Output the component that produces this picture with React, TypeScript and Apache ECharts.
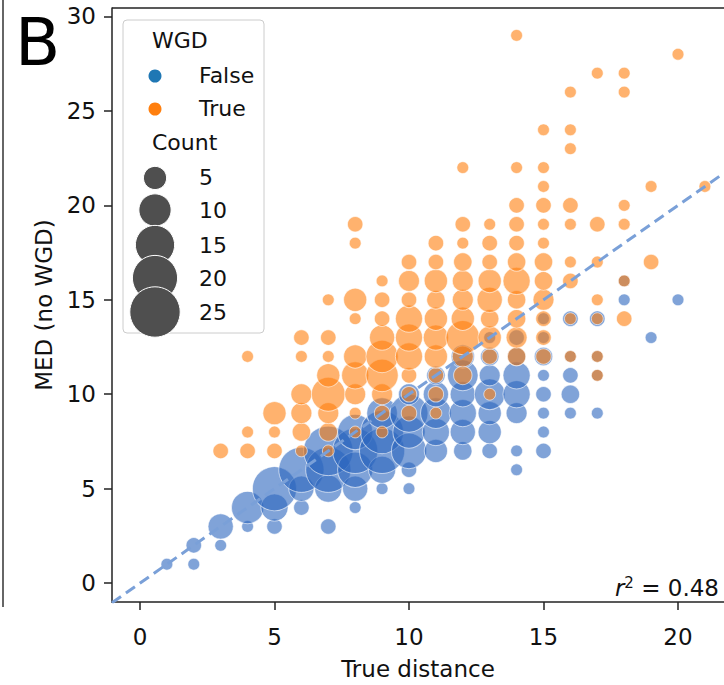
import React, { useEffect, useRef } from "react";
import * as echarts from "echarts";

// ---------- data ----------
const xTicks = [0, 5, 10, 15, 20];
const yTicks = [0, 5, 10, 15, 20, 25, 30];
const wgdCategories = ["False", "True"];
const legendCounts = [5, 10, 15, 20, 25];

// [true distance, MED (no WGD), count]
const falsePoints: number[][] = [
  [1, 1, 1],
  [2, 1, 1], [2, 2, 2],
  [3, 2, 1], [3, 3, 6],
  [4, 3, 1], [4, 4, 10],
  [5, 3, 2], [5, 4, 7], [5, 5, 19],
  [6, 4, 2], [6, 5, 6], [6, 6, 20],
  [7, 3, 2], [7, 5, 7], [7, 6, 20], [7, 7, 24],
  [8, 4, 1], [8, 5, 6], [8, 6, 12], [8, 7, 20], [8, 8, 12],
  [9, 5, 1], [9, 6, 7], [9, 7, 20], [9, 8, 18], [9, 9, 9],
  [10, 5, 1], [10, 6, 2], [10, 7, 12], [10, 8, 10], [10, 9, 14], [10, 10, 4],
  [11, 7, 5], [11, 8, 7], [11, 9, 9], [11, 10, 6], [11, 11, 3],
  [12, 7, 3], [12, 8, 6], [12, 9, 7], [12, 10, 6], [12, 11, 9], [12, 12, 5],
  [13, 7, 2], [13, 8, 5], [13, 9, 5], [13, 10, 9], [13, 11, 4], [13, 12, 3], [13, 13, 1],
  [14, 6, 1], [14, 7, 1], [14, 9, 4], [14, 10, 7], [14, 11, 7], [14, 12, 3], [14, 13, 2],
  [15, 7, 2], [15, 8, 1], [15, 9, 1], [15, 10, 2], [15, 11, 1], [15, 12, 3], [15, 13, 1], [15, 14, 1],
  [16, 9, 1], [16, 10, 3], [16, 11, 2], [16, 12, 1], [16, 14, 2],
  [17, 9, 1], [17, 11, 1], [17, 12, 1], [17, 14, 2],
  [18, 15, 1], [18, 16, 1],
  [19, 13, 1],
  [20, 15, 1],
];

const truePoints: number[][] = [
  [3, 7, 2],
  [4, 7, 2], [4, 8, 1], [4, 12, 1],
  [5, 7, 2], [5, 8, 1], [5, 9, 5],
  [6, 7, 1], [6, 8, 3], [6, 9, 4], [6, 10, 4], [6, 12, 1], [6, 13, 2],
  [7, 7, 1], [7, 8, 3], [7, 9, 4], [7, 10, 11], [7, 11, 5], [7, 12, 1], [7, 13, 2], [7, 15, 1],
  [8, 8, 1], [8, 9, 1], [8, 10, 4], [8, 11, 7], [8, 12, 5], [8, 14, 1], [8, 15, 5], [8, 18, 1], [8, 19, 2],
  [9, 8, 1], [9, 9, 2], [9, 10, 4], [9, 11, 10], [9, 12, 10], [9, 13, 6], [9, 14, 2], [9, 15, 2], [9, 16, 1],
  [10, 9, 2], [10, 10, 2], [10, 11, 2], [10, 12, 7], [10, 13, 7], [10, 14, 7], [10, 15, 2], [10, 16, 4], [10, 17, 2],
  [11, 9, 1], [11, 10, 2], [11, 11, 2], [11, 12, 5], [11, 13, 6], [11, 14, 5], [11, 15, 3], [11, 16, 5], [11, 17, 2], [11, 18, 2],
  [12, 11, 3], [12, 12, 4], [12, 13, 11], [12, 14, 5], [12, 15, 4], [12, 16, 4], [12, 17, 3], [12, 18, 1], [12, 19, 2], [12, 22, 1],
  [13, 10, 1], [13, 12, 2], [13, 13, 5], [13, 14, 3], [13, 15, 6], [13, 16, 5], [13, 17, 2], [13, 18, 2], [13, 19, 1],
  [14, 12, 3], [14, 13, 4], [14, 14, 3], [14, 15, 3], [14, 16, 7], [14, 17, 3], [14, 18, 2], [14, 19, 2], [14, 20, 2], [14, 22, 1], [14, 29, 1],
  [15, 12, 2], [15, 13, 2], [15, 14, 2], [15, 15, 4], [15, 16, 3], [15, 17, 3], [15, 18, 1], [15, 19, 1], [15, 20, 2], [15, 21, 1], [15, 22, 1], [15, 24, 1],
  [16, 12, 1], [16, 14, 1], [16, 16, 2], [16, 17, 1], [16, 19, 1], [16, 20, 2], [16, 23, 1], [16, 24, 1], [16, 26, 1],
  [17, 11, 1], [17, 12, 1], [17, 14, 1], [17, 15, 1], [17, 17, 1], [17, 19, 2], [17, 27, 1],
  [18, 14, 2], [18, 16, 1], [18, 19, 1], [18, 20, 1], [18, 26, 1], [18, 27, 1],
  [19, 17, 2], [19, 21, 1],
  [20, 28, 1],
  [21, 21, 1],
];

const fitSlope = 1.0;
const fitIntercept = 0.0;
const r2Value = "0.48";

// ---------- styling ----------
const FONT = "DejaVu Sans";
const X_MIN = -1.04;
const X_MAX = 21.71;
const Y_MIN = -1.0;
const Y_MAX = 30.45;
const BLUE_PT = "#2b65be";
const ORANGE_PT = "#ff7f0e";
const BLUE_LEG = "#1f77b4";
const ORANGE_LEG = "#ff7f0e";
const AXIS_COLOR = "#222";

const sizeFn = (c: number) => Math.sqrt(100 * c + 40);

export default function App() {
  const ref = useRef<HTMLDivElement>(null);

  useEffect(() => {
    if (!ref.current) return;
    const chart = echarts.init(ref.current, null, { renderer: "svg" });

    const legendX = 155;
    const legendTextX = 199;
    const countY = [177, 210, 245, 278, 312];
    const legendGraphics: any[] = [
      {
        type: "rect",
        shape: { x: 123, y: 20, width: 141, height: 313, r: 4 },
        style: { fill: "rgba(255,255,255,0.85)", stroke: "#cccccc", lineWidth: 1 },
        z: 100,
      },
      {
        type: "text",
        x: 152,
        y: 40,
        style: { text: "WGD", fontFamily: FONT, fontSize: 22, fill: "#111", verticalAlign: "middle" },
        z: 101,
      },
    ];
    wgdCategories.forEach((cat, i) => {
      const cy = 76 + i * 33;
      legendGraphics.push({
        type: "circle",
        shape: { cx: legendX, cy, r: 6.5 },
        style: { fill: i === 0 ? BLUE_LEG : ORANGE_LEG },
        z: 101,
      });
      legendGraphics.push({
        type: "text",
        x: legendTextX,
        y: cy - 1,
        style: { text: cat, fontFamily: FONT, fontSize: 22, fill: "#111", verticalAlign: "middle" },
        z: 101,
      });
    });
    legendGraphics.push({
      type: "text",
      x: 152,
      y: 142,
      style: { text: "Count", fontFamily: FONT, fontSize: 22, fill: "#111", verticalAlign: "middle" },
      z: 101,
    });
    legendCounts.forEach((c, i) => {
      legendGraphics.push({
        type: "circle",
        shape: { cx: legendX, cy: countY[i], r: sizeFn(c) / 2 },
        style: { fill: "#4f4f4f", stroke: "#ffffff", lineWidth: 1 },
        z: 101,
      });
      legendGraphics.push({
        type: "text",
        x: legendTextX,
        y: countY[i],
        style: { text: String(c), fontFamily: FONT, fontSize: 22, fill: "#111", verticalAlign: "middle" },
        z: 102,
      });
    });

    const fitLine = [
      [X_MIN, fitIntercept + fitSlope * X_MIN],
      [X_MAX, fitIntercept + fitSlope * X_MAX],
    ];

    const option: any = {
      animation: false,
      backgroundColor: "#ffffff",
      textStyle: { fontFamily: FONT },
      grid: { left: 112, right: 0, top: 8, bottom: 80, containLabel: false },
      xAxis: {
        type: "value",
        min: X_MIN,
        max: X_MAX,
        name: "True distance",
        nameLocation: "middle",
        nameGap: 55,
        nameTextStyle: { fontFamily: FONT, fontSize: 23, color: "#111" },
        axisLine: { show: true, onZero: false, lineStyle: { color: AXIS_COLOR, width: 1.5 } },
        axisTick: { show: true, length: 8, customValues: xTicks, lineStyle: { color: AXIS_COLOR, width: 1.5 } },
        axisLabel: { customValues: xTicks, fontFamily: FONT, fontSize: 23, color: "#111", margin: 23 },
        splitLine: { show: false },
      },
      yAxis: {
        type: "value",
        min: Y_MIN,
        max: Y_MAX,
        name: "MED (no WGD)",
        nameLocation: "middle",
        nameGap: 56,
        nameTextStyle: { fontFamily: FONT, fontSize: 23, color: "#111" },
        axisLine: { show: true, onZero: false, lineStyle: { color: AXIS_COLOR, width: 1.5 } },
        axisTick: { show: true, length: 8, customValues: yTicks, lineStyle: { color: AXIS_COLOR, width: 1.5 } },
        axisLabel: { customValues: yTicks, fontFamily: FONT, fontSize: 23, color: "#111", margin: 16 },
        splitLine: { show: false },
      },
      series: [
        {
          name: "False",
          type: "scatter",
          data: falsePoints,
          symbol: "circle",
          symbolSize: (v: number[]) => sizeFn(v[2]),
          itemStyle: { color: BLUE_PT, opacity: 0.6, borderColor: "#ffffff", borderWidth: 1 },
          z: 2,
        },
        {
          name: "True",
          type: "scatter",
          data: truePoints,
          symbol: "circle",
          symbolSize: (v: number[]) => sizeFn(v[2]),
          itemStyle: { color: ORANGE_PT, opacity: 0.6, borderColor: "#ffffff", borderWidth: 1 },
          z: 3,
        },
        {
          name: "fit",
          type: "line",
          data: fitLine,
          symbol: "none",
          silent: true,
          lineStyle: { color: "#7aa0d8", width: 3, type: [11, 6] },
          z: 4,
        },
      ],
      graphic: [
        {
          type: "line",
          shape: { x1: 112, y1: 8, x2: 724, y2: 8 },
          style: { stroke: AXIS_COLOR, lineWidth: 1.5 },
          z: 50,
        },
        {
          type: "line",
          shape: { x1: 3, y1: 0, x2: 3, y2: 607 },
          style: { stroke: "#333", lineWidth: 1.5 },
          z: 50,
        },
        {
          type: "text",
          x: 15,
          y: 42,
          style: {
            text: "B",
            fontFamily: FONT,
            fontSize: 66,
            fill: "#000",
            verticalAlign: "middle",
          },
          z: 50,
        },
        {
          type: "text",
          x: 719,
          y: 588,
          style: {
            text: "{r|r}{s|2}{n| = " + r2Value + "}",
            align: "right",
            verticalAlign: "middle",
            rich: {
              r: { fontFamily: FONT, fontStyle: "italic", fontSize: 23, fill: "#111" },
              s: { fontFamily: FONT, fontSize: 15, fill: "#111", verticalAlign: "top", padding: [0, 0, 10, 0] },
              n: { fontFamily: FONT, fontSize: 23, fill: "#111" },
            },
          },
          z: 50,
        },
        ...legendGraphics,
      ],
    };

    chart.setOption(option);
    return () => chart.dispose();
  }, []);

  return (
    <div
      ref={ref}
      style={{ position: "absolute", left: 0, top: 0, width: 724, height: 685, background: "#fff" }}
    />
  );
}
